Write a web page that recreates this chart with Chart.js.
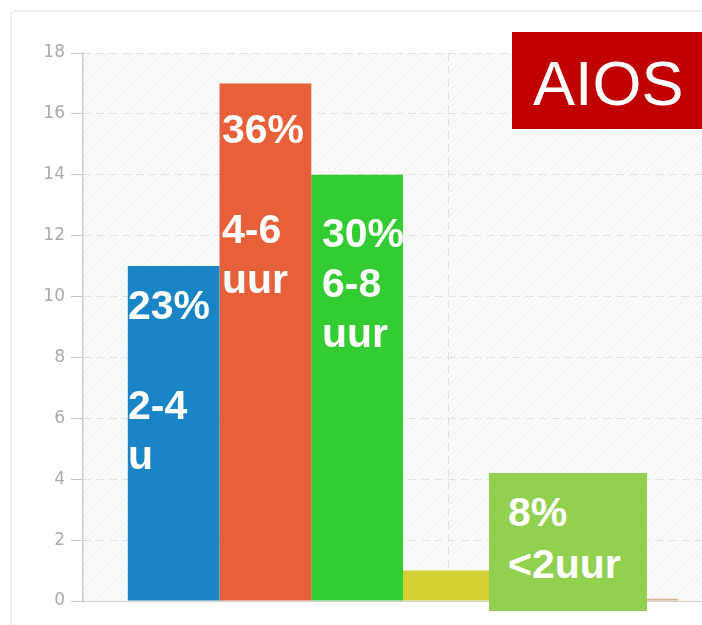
<!DOCTYPE html>
<html>
<head>
<meta charset="utf-8">
<script src="https://cdn.jsdelivr.net/npm/chart.js@4"></script>
<style>
  html, body { margin: 0; padding: 0; background: #fff; overflow: hidden; width: 702px; height: 625px; }
  .card { position: absolute; left: 10px; top: 10px; width: 800px; height: 700px; border: 2px solid #eeeeee; border-radius: 6px; box-sizing: border-box; }
  #chart { position: absolute; left: 0; top: 0; }
  .lbl { position: absolute; color: #fff; font: bold 41px "Liberation Sans", Arial, sans-serif; line-height: 50px; white-space: nowrap; }
  .aios { position: absolute; left: 512px; top: 32px; width: 200px; height: 97px; box-sizing: border-box; background: #c00000; color: #fff;
          font: 63px "Liberation Sans", Arial, sans-serif; line-height: 72px; padding: 15px 0 0 21px; }
  .kort { position: absolute; left: 489px; top: 473px; width: 158px; height: 138px; box-sizing: border-box; background: #92d050; color: #fff;
          font: bold 41px "Liberation Sans", Arial, sans-serif; line-height: 52px; padding: 13px 0 0 19px; white-space: nowrap; }
</style>
</head>
<body>
<div class="card"></div>
<canvas id="chart" width="760" height="625"></canvas>
<div class="lbl" style="left:128px;top:280px">23%<br>&nbsp;<br>2-4<br>u</div>
<div class="lbl" style="left:222px;top:104px">36%<br>&nbsp;<br>4-6<br>uur</div>
<div class="lbl" style="left:322px;top:208px">30%<br>6-8<br>uur</div>
<div class="aios">AIOS</div>
<div class="kort">8%<br>&lt;2uur</div>
<script>
// data
const categories = [''];
const seriesNames = ['2-4 uur', '4-6 uur', '6-8 uur', '<2 uur', '8-10 uur', '>10 uur'];
const seriesValues = [11, 17, 14, 1, 0, 0.07];
const seriesColors = ['#1984c6', '#e8603a', '#33cc33', '#d4d232', '#9b59b6', '#d9b38c'];
const yTicks = [0, 2, 4, 6, 8, 10, 12, 14, 16, 18];

// lichte gearceerde achtergrond in het plotgebied + verticale hulplijn
const hatchPlugin = {
    id: 'hatch',
    beforeDraw(chart) {
        const { ctx, chartArea: a } = chart;
        const p = document.createElement('canvas');
        p.width = 6; p.height = 6;
        const pc = p.getContext('2d');
        pc.fillStyle = '#fafafa';
        pc.fillRect(0, 0, 6, 6);
        pc.strokeStyle = '#efefef';
        pc.beginPath(); pc.moveTo(0, 6); pc.lineTo(6, 0); pc.stroke();
        ctx.save();
        ctx.fillStyle = ctx.createPattern(p, 'repeat');
        ctx.fillRect(a.left, a.top, a.right - a.left, a.bottom - a.top);
        // verticale rasterlijn
        const gx = Math.round(a.left + (a.right - a.left) * 0.5703) + 0.5;
        ctx.strokeStyle = '#e0e0e0';
        ctx.lineWidth = 1;
        ctx.setLineDash([8, 5]);
        ctx.beginPath(); ctx.moveTo(gx, a.top); ctx.lineTo(gx, a.bottom); ctx.stroke();
        ctx.restore();
    }
};

const datasets = seriesValues.map((v, i) => ({
    label: seriesNames[i],
    data: [v],
    backgroundColor: seriesColors[i],
    borderWidth: 0,
    barPercentage: 1,
    categoryPercentage: 0.86
}));

new Chart(document.getElementById('chart').getContext('2d'), {
    type: 'bar',
    data: { labels: categories, datasets: datasets },
    options: {
        responsive: false,
        animation: false,
        layout: { padding: { left: 0, top: 53, right: 37, bottom: 24 } },
        plugins: { legend: { display: false }, tooltip: { enabled: false } },
        scales: {
            x: {
                ticks: { display: false },
                grid: { display: false },
                border: { display: true, color: '#d0d0d0', width: 1 },
                afterFit(axis) { axis.height = 0; }
            },
            y: {
                min: 0,
                max: 18,
                afterBuildTicks(axis) { axis.ticks = yTicks.map(v => ({ value: v })); },
                ticks: { color: '#ababab', padding: 6, font: { family: 'DejaVu Sans', size: 17 } },
                grid: { color: '#e2e2e2', tickColor: '#c4c4c4', tickLength: 12 },
                border: { display: true, color: '#cccccc', width: 1.5, dash: [8, 5] },
                afterFit(axis) { axis.width = 83; }
            }
        }
    },
    plugins: [hatchPlugin]
});
</script>
</body>
</html>
